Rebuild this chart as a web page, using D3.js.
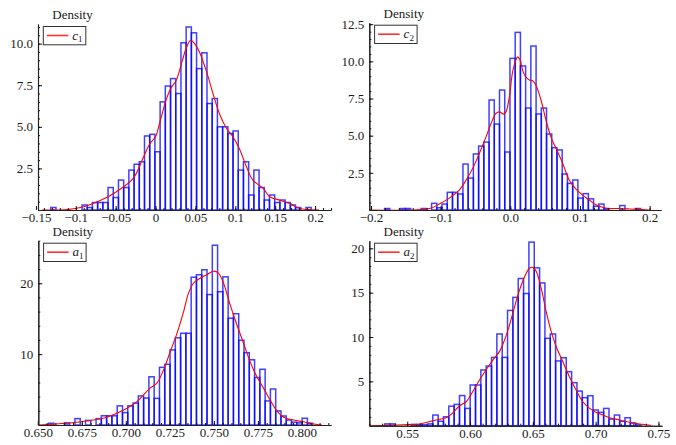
<!DOCTYPE html>
<html>
<head>
<meta charset="utf-8">
<script src="https://cdn.jsdelivr.net/npm/d3@7"></script>
<style>
body { margin: 0; background: #fff; }
</style>
</head>
<body>
<div id="chart"></div>
<script>
//#region data
// histogram densities: first bin edge, bin width, one density per bin
const c1Start = -0.1314, c1Width = 0.00653;
const c1Density = [0.15, 0, 0, 0, 0, 0, 0.3, 0.15, 0.45, 0.45, 0.45, 1.35, 0.75, 1.8, 1.35, 2.4, 2.75, 2.9, 4.45, 4.55,
    3.5, 6.5, 7.45, 7.9, 7.0, 10.05, 11.0, 10.65, 8.5, 9.45, 6.4, 6.7, 5.0, 5.0, 4.6, 4.75, 2.4, 2.9, 0.9, 2.4,
    1.35, 0.6, 0.9, 0.45, 0.6, 0.45, 0.3, 0.15, 0, 0.15];
const c1KdeX = [-0.1425, -0.111, -0.09, -0.07, -0.049, -0.028, -0.015, -0.007, 0, 0.005, 0.0125, 0.019, 0.026, 0.0325,
    0.039, 0.044, 0.049, 0.055, 0.064, 0.072, 0.08, 0.089, 0.097, 0.105, 0.114, 0.122, 0.135, 0.143, 0.155, 0.168, 0.18, 0.205];
const c1KdeY = [0, 0.02, 0.2, 0.55, 1.1, 1.9, 3.2, 4.0, 4.4, 5.2, 6.5, 7.3, 7.8, 8.8, 9.8, 10.2, 10.0, 9.5, 8.3, 7.0,
    5.8, 4.9, 4.4, 3.7, 2.6, 1.8, 1.3, 0.8, 0.6, 0.4, 0.1, 0];

const c2Start = -0.1805, c2Width = 0.0075;
const c2Density = [0.1, 0, 0, 0.1, 0.1, 0, 0, 0.1, 0, 0.45, 0.15, 0.4, 1.19, 1.19, 1.08, 3.09, 2.15, 3.77, 4.3, 4.57,
    7.4, 5.78, 8.07, 3.9, 10.2, 11.95, 9.69, 6.86, 11.03, 6.46, 6.86, 5.11, 4.19, 4.04, 2.42, 1.79, 2.02, 0.8, 1.1, 0.75,
    0.25, 0.4, 0.1, 0, 0, 0.3, 0, 0, 0.1];
const c2KdeX = [-0.2024, -0.116, -0.102, -0.0876, -0.073, -0.0636, -0.054, -0.0445, -0.035, -0.0278, -0.0206, -0.0158,
    -0.0096, -0.0062, -0.0014, 0.0033, 0.0081, 0.0105, 0.0139, 0.0177, 0.0215, 0.0273, 0.032, 0.0368, 0.044, 0.0512,
    0.0584, 0.0656, 0.0751, 0.0847, 0.0943, 0.1038, 0.1134, 0.123, 0.137, 0.156, 0.171, 0.2];
const c2KdeY = [0, 0.1, 0.4, 0.8, 1.35, 2.0, 2.8, 3.8, 4.9, 5.8, 6.5, 6.6, 6.45, 6.6, 7.6, 9.3, 10.1, 10.3, 10.1, 9.4,
    9.0, 8.75, 8.7, 8.4, 7.4, 6.05, 4.9, 4.15, 3.15, 2.0, 1.4, 1.0, 0.67, 0.35, 0.12, 0.1, 0.07, 0];

const a1Start = 0.6531, a1Width = 0.003;
const a1Density = [0, 0.25, 0, 0, 0.3, 0, 0.9, 0, 0.65, 0, 0.9, 1.3, 1.3, 1.3, 2.7, 1.75, 2.7, 3.1, 4.1, 3.8,
    6.8, 3.76, 8.14, 8.56, 10.6, 12.3, 12.94, 12.94, 20.85, 21.2, 21.9, 18.4, 25.36, 18.8, 20.9, 15.06, 15.7, 11.95, 10.2, 9.2,
    6.7, 7.86, 3.4, 5.08, 1.98, 1.27, 0.7, 0.4, 0.3, 0.95, 0.25];
const a1KdeX = [0.6504, 0.6665, 0.674, 0.6816, 0.6892, 0.6949, 0.7006, 0.7063, 0.71, 0.7138, 0.7176, 0.7214, 0.7252,
    0.729, 0.7328, 0.7356, 0.7384, 0.7422, 0.746, 0.7498, 0.7527, 0.7555, 0.7593, 0.7631, 0.7669, 0.7706, 0.7744,
    0.7782, 0.782, 0.7858, 0.7896, 0.7953, 0.801, 0.8066, 0.8114];
const a1KdeY = [0, 0.25, 0.45, 0.7, 1.1, 1.65, 2.35, 3.3, 4.25, 5.2, 5.9, 7.75, 10.35, 12.9, 16.0, 18.6, 20.0, 20.7,
    21.2, 21.7, 21.4, 20.0, 16.9, 14.1, 11.5, 8.9, 6.8, 5.2, 3.5, 2.0, 1.1, 0.7, 0.45, 0.15, 0];

const a2Start = 0.5321, a2Width = 0.00425;
const a2Density = [0.2, 0.2, 0, 0, 0, 0.15, 0.1, 0.1, 0.2, 1.2, 0.5, 1.0, 2.2, 2.4, 3.4, 1.95, 4.59, 4.59, 6.28, 6.73,
    7.7, 10.34, 7.7, 13.0, 14.47, 16.6, 14.9, 20.7, 17.8, 16.1, 9.85, 10.34, 7.3, 7.67, 6.09, 4.85, 3.9, 3.16, 3.38, 1.77,
    1.5, 1.95, 0.75, 1.2, 0.5, 0.9, 0.3, 0.1];
const a2KdeX = [0.5199, 0.5464, 0.5597, 0.573, 0.5809, 0.5863, 0.5916, 0.5969, 0.6022, 0.6075, 0.6128, 0.6181, 0.6234,
    0.6274, 0.6314, 0.6354, 0.6394, 0.6434, 0.6473, 0.65, 0.6527, 0.6566, 0.6606, 0.6646, 0.6686, 0.6739, 0.6792,
    0.6845, 0.6898, 0.6952, 0.7005, 0.7058, 0.7111, 0.7191, 0.727, 0.735, 0.7443];
const a2KdeY = [0, 0.1, 0.2, 0.65, 0.9, 1.45, 2.25, 2.7, 3.85, 5.15, 6.3, 7.4, 8.35, 9.65, 11.35, 13.4, 15.3, 16.8,
    17.75, 17.85, 17.4, 15.5, 12.85, 10.6, 8.9, 7.2, 5.5, 4.0, 2.7, 1.95, 1.5, 1.2, 0.9, 0.65, 0.38, 0.2, 0.05];

// tick labels
const c1XTicks = [-0.15, -0.1, -0.05, 0, 0.05, 0.1, 0.15, 0.2];
const c1XLabels = ["\u22120.15", "\u22120.1", "\u22120.05", "0", "0.05", "0.1", "0.15", "0.2"];
const c1YTicks = [2.5, 5, 7.5, 10];
const c1YLabels = ["2.5", "5.0", "7.5", "10.0"];
const c2XTicks = [-0.2, -0.1, 0, 0.1, 0.2];
const c2XLabels = ["\u22120.2", "\u22120.1", "0.0", "0.1", "0.2"];
const c2YTicks = [2.5, 5, 7.5, 10, 12.5];
const c2YLabels = ["2.5", "5.0", "7.5", "10.0", "12.5"];
const a1XTicks = [0.65, 0.675, 0.7, 0.725, 0.75, 0.775, 0.8];
const a1XLabels = ["0.650", "0.675", "0.700", "0.725", "0.750", "0.775", "0.800"];
const a1YTicks = [10, 20];
const a1YLabels = ["10", "20"];
const a2XTicks = [0.55, 0.6, 0.65, 0.7, 0.75];
const a2XLabels = ["0.55", "0.60", "0.65", "0.70", "0.75"];
const a2YTicks = [5, 10, 15, 20];
const a2YLabels = ["5", "10", "15", "20"];
//#endregion

//#region layout
let width = 676, height = 445;
let font = '"Liberation Serif", "Times New Roman", Times, serif';
let panels = [
    { sym: "c", sub: "1", start: c1Start, bw: c1Width, dens: c1Density, kx: c1KdeX, ky: c1KdeY,
      xd: [-0.1474, 0.22], xr: [38, 331], yd: [0, 11.18], yr: [210, 24],
      xt: c1XTicks, xl: c1XLabels, xm: 0.01, yt: c1YTicks, yl: c1YLabels, ym: 0.5 },
    { sym: "c", sub: "2", start: c2Start, bw: c2Width, dens: c2Density, kx: c2KdeX, ky: c2KdeY,
      xd: [-0.2024, 0.2163], xr: [369.3, 661], yd: [0, 12.6], yr: [210, 22.7],
      xt: c2XTicks, xl: c2XLabels, xm: 0.02, yt: c2YTicks, yl: c2YLabels, ym: 0.5 },
    { sym: "a", sub: "1", start: a1Start, bw: a1Width, dens: a1Density, kx: a1KdeX, ky: a1KdeY,
      xd: [0.6503, 0.8165], xr: [38.3, 331], yd: [0, 26.0], yr: [425, 240.7],
      xt: a1XTicks, xl: a1XLabels, xm: 0.005, yt: a1YTicks, yl: a1YLabels, ym: 2 },
    { sym: "a", sub: "2", start: a2Start, bw: a2Width, dens: a2Density, kx: a2KdeX, ky: a2KdeY,
      xd: [0.5198, 0.7528], xr: [369.3, 662], yd: [0, 20.86], yr: [425.7, 240.7],
      xt: a2XTicks, xl: a2XLabels, xm: 0.01, yt: a2YTicks, yl: a2YLabels, ym: 1 }
];
//#endregion

let svg = d3.select('#chart')
    .append('svg')
    .attr('width', width)
    .attr('height', height);

panels.forEach(p => {
    let xScale = d3.scaleLinear().domain(p.xd).range(p.xr);
    let yScale = d3.scaleLinear().domain(p.yd).range(p.yr);
    let g = svg.append('g');

    // bars, outline only, translucent so shared edges look darker
    let bins = p.dens.map((d, i) => ({ x0: p.start + i * p.bw, x1: p.start + (i + 1) * p.bw, d: d }))
        .filter(b => b.d > 0);
    g.selectAll('rect.bar')
        .data(bins)
        .enter()
        .append('rect')
        .attr('class', 'bar')
        .attr('x', b => xScale(b.x0))
        .attr('width', b => xScale(b.x1) - xScale(b.x0))
        .attr('y', b => yScale(b.d))
        .attr('height', b => yScale(0) - yScale(b.d))
        .attr('fill', 'none')
        .attr('stroke', '#0000ff')
        .attr('stroke-opacity', 0.75)
        .attr('stroke-width', 1.5);

    // kde curve
    let line = d3.line()
        .x(i => xScale(p.kx[i]))
        .y(i => yScale(p.ky[i]))
        .curve(d3.curveCatmullRom.alpha(0.5));
    g.append('path')
        .attr('d', line(d3.range(p.kx.length)))
        .attr('fill', 'none')
        .attr('stroke', '#ff0000')
        .attr('stroke-width', 1.1);

    // axes (ticks inside)
    let x0 = p.xr[0], y0 = p.yr[0];
    let minorX = d3.range(Math.ceil(p.xd[0] / p.xm), Math.floor(p.xd[1] / p.xm) + 1).map(k => k * p.xm);
    let minorY = d3.range(1, Math.floor(p.yd[1] / p.ym) + 1).map(k => k * p.ym);

    g.append('g')
        .attr('transform', `translate(0, ${y0})`)
        .call(d3.axisBottom(xScale).tickValues(minorX).tickSize(-2).tickSizeOuter(0).tickFormat(''));
    g.append('g')
        .attr('transform', `translate(0, ${y0})`)
        .call(d3.axisBottom(xScale).tickValues(p.xt).tickSize(-4).tickSizeOuter(0).tickPadding(3)
            .tickFormat((d, i) => p.xl[i]));
    g.append('g')
        .attr('transform', `translate(${x0}, 0)`)
        .call(d3.axisLeft(yScale).tickValues(minorY).tickSize(-2).tickSizeOuter(0).tickFormat(''));
    g.append('g')
        .attr('transform', `translate(${x0}, 0)`)
        .call(d3.axisLeft(yScale).tickValues(p.yt).tickSize(-4).tickSizeOuter(0).tickPadding(5)
            .tickFormat((d, i) => p.yl[i]));

    g.selectAll('.domain').attr('stroke', '#222').attr('stroke-width', 1.1);
    g.selectAll('.tick line').attr('stroke', '#111');

    // axis label
    g.append('text')
        .attr('x', x0 + 34.5)
        .attr('y', p.yr[1] - 5)
        .attr('text-anchor', 'middle')
        .text('Density');

    // legend
    let lg = g.append('g').attr('transform', `translate(${x0 + 5.3}, ${p.yr[1] + 2.5})`);
    lg.append('rect')
        .attr('width', 42.5).attr('height', 18.3)
        .attr('fill', '#fff')
        .attr('stroke', '#333')
        .attr('stroke-width', 1);
    lg.append('line')
        .attr('x1', 3.5).attr('x2', 25).attr('y1', 9).attr('y2', 9)
        .attr('stroke', '#ff3030')
        .attr('stroke-width', 1.6);
    let lt = lg.append('text').attr('x', 29).attr('y', 13);
    lt.append('tspan').attr('font-style', 'italic').text(p.sym);
    lt.append('tspan').attr('dy', 2.5).attr('font-size', '9px').text(p.sub);

    g.selectAll('text')
        .style('font-family', font)
        .style('font-size', '13px')
        .style('fill', '#1a1a1a');
    g.selectAll('tspan').style('font-family', font);
});
</script>
</body>
</html>
